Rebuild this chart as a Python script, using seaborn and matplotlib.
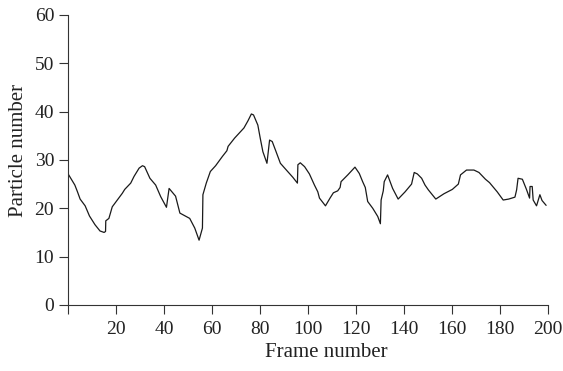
import matplotlib
matplotlib.use("Agg")
import matplotlib.pyplot as plt
import numpy as np
import pandas as pd
import seaborn as sns

# frame number / particle count
frame = [0, 2.8, 3.9, 5, 7.1, 8.9, 11.2, 13.3, 15, 15.6, 15.7, 17, 18.4, 20.5, 22.6, 23.6,
         26.1, 27.5, 29.6, 31, 31.9, 34.1, 36.5, 38.6, 41, 42.1, 44.8, 46.6, 50.7, 52.8,
         54.6, 56, 56.2, 57.6, 59.3, 61.5, 64.3, 66.2, 66.7, 69.4, 73.3, 75, 76.4, 77.3,
         79.1, 80.1, 81.2, 82.9, 84, 85.1, 86.7, 88.5, 91, 93.7, 95.6, 95.8, 96.8, 98.6,
         100.6, 102.7, 104.1, 104.8, 107.3, 109.2, 110.6, 112.4, 113.4, 113.8, 116.6, 119.6,
         121.4, 122.8, 123.9, 124.9, 127, 129.1, 130.2, 130.5, 131.4, 131.8, 133.2, 135.3,
         137.6, 140.5, 143.2, 144.3, 145.6, 147.4, 148.8, 150.2, 153.3, 156.7, 160.2, 162.7,
         163.6, 166.1, 169.2, 171.3, 174, 175.7, 178.9, 181.4, 183.7, 186.3, 187, 187.6,
         189.4, 191.1, 192.4, 192.6, 193.5, 193.9, 195.3, 196.7, 197.6, 199.3]
particles = [27.1, 24.8, 23.4, 21.9, 20.5, 18.4, 16.6, 15.3, 15.0, 15.2, 17.4, 17.9, 20.3, 21.7,
             23.1, 23.9, 25.2, 26.6, 28.3, 28.8, 28.6, 26.2, 24.8, 22.4, 20.2, 24.1, 22.5, 19.0,
             17.9, 15.9, 13.4, 15.9, 22.8, 25.2, 27.6, 28.8, 30.7, 31.9, 32.8, 34.5, 36.6, 38.1,
             39.5, 39.3, 37.2, 34.5, 31.7, 29.3, 34.1, 33.8, 31.7, 29.3, 27.9, 26.4, 25.2, 29.0,
             29.4, 28.6, 27.1, 24.8, 23.4, 22.1, 20.5, 22.1, 23.2, 23.6, 24.3, 25.5, 26.9, 28.5,
             27.2, 25.5, 24.3, 21.4, 20.0, 18.3, 16.8, 21.7, 23.6, 25.5, 26.9, 24.1, 21.9, 23.4,
             25.0, 27.4, 27.1, 26.2, 24.8, 23.8, 21.9, 23.0, 23.9, 25.0, 26.9, 27.9, 27.9, 27.4,
             26.0, 25.3, 23.4, 21.7, 21.9, 22.3, 23.8, 26.2, 26.0, 23.9, 22.1, 24.5, 24.5, 21.7,
             20.5, 22.8, 21.6, 20.6]

x_ticks = list(range(20, 201, 20))
y_ticks = list(range(0, 61, 10))

df = pd.DataFrame({"frame": frame, "particles": particles})

sns.set_style("ticks")
plt.rcParams['font.family'] = ['Liberation Serif', 'DejaVu Serif']
plt.rcParams['mathtext.fontset'] = 'stix'

fig = plt.figure(figsize=(5.63, 3.71), dpi=100)
ax = fig.add_axes([0.121, 0.178, 0.852, 0.782])
sns.lineplot(data=df, x="frame", y="particles", ax=ax, color="#1a1a1a", linewidth=0.9)

ax.set_xlim(0, 200)
ax.set_ylim(0, 60)
ax.set_xticks([0] + x_ticks)
ax.set_xticklabels([""] + [str(t) for t in x_ticks])
ax.set_yticks(y_ticks)
ax.tick_params(axis="both", direction="out", length=6.5, width=0.8, labelsize=14,
               color="#333333", labelcolor="#222222")
ax.tick_params(axis="x", pad=5)
ax.set_xlabel("Frame number", fontsize=15, color="#222222")
ax.set_ylabel("Particle number", fontsize=15, color="#222222", labelpad=5)
ax.xaxis.label.set_x(0.5375)
ax.yaxis.label.set_y(0.534)
for side in ["top", "right"]:
    ax.spines[side].set_visible(False)
for side in ["left", "bottom"]:
    ax.spines[side].set_linewidth(0.8)
    ax.spines[side].set_color("#333333")

fig.savefig("out.png", dpi=100)
